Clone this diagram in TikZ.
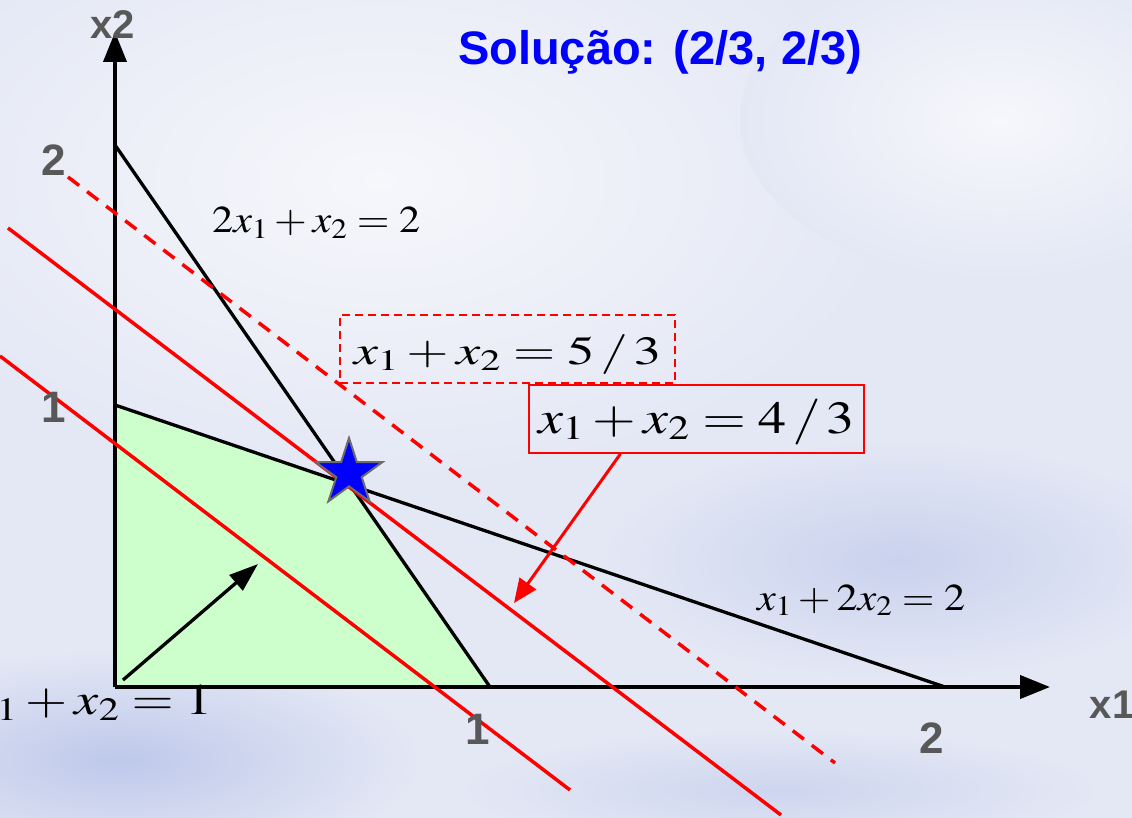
\documentclass[tikz,border=0pt]{standalone}
\usepackage{mathptmx}
\usepackage[no-math]{fontspec}
\setmainfont{Liberation Serif}
\newfontfamily\labfont{Liberation Sans}
\usetikzlibrary{arrows.meta,shapes.geometric,calc}
\definecolor{bgc}{RGB}{228,232,245}
\definecolor{bglight}{RGB}{246,247,251}
\definecolor{bgdark}{RGB}{190,200,234}
\definecolor{greenf}{RGB}{204,255,204}
\definecolor{labgray}{RGB}{88,88,88}
\definecolor{objred}{RGB}{255,0,0}
\newcommand{\myeq}[3]{\resizebox{#1}{\height}{\fontsize{#2}{#2}\selectfont$#3$}}
\tikzset{
  cline/.style={black, line width=3.3pt},
  axisline/.style={black, line width=4pt, -{Triangle[length=30pt,width=23pt]}},
  objline/.style={objred, line width=3.5pt},
  objdash/.style={objred, line width=3.5pt, dash pattern=on 14pt off 10pt},
  eqbox/.style={draw=objred, line width=1.6pt, minimum width=335pt, minimum height=68pt, inner sep=0pt},
  axlab/.style={font=\labfont\bfseries\fontsize{44}{44}\selectfont, text=labgray, inner sep=0pt},
  eqlab/.style={inner sep=0pt, text=black}
}
\begin{document}
\begin{tikzpicture}[x=1pt,y=-1pt]
\useasboundingbox (0,0) rectangle (1132,818);
\clip (0,0) rectangle (1132,818);
% background
\fill[bgc] (0,0) rectangle (1132,818);
\shade[inner color=bglight, outer color=bgc] (380,180) ellipse (520 and 300);
\shade[inner color=bglight, outer color=bgc] (1000,120) ellipse (260 and 160);
\shade[inner color=bgdark, outer color=bgc] (120,760) ellipse (300 and 110);
\shade[inner color=bgdark!70!bgc, outer color=bgc] (900,560) ellipse (300 and 120);
\shade[inner color=bgdark!60!bgc, outer color=bgc] (780,790) ellipse (320 and 60);
% key points
\coordinate (O) at (115,687);
\coordinate (X1) at (1050,687);
\coordinate (X2) at (115,32);
\coordinate (A) at (115,145);
\coordinate (B) at (490,687);
\coordinate (C) at (115,405);
\coordinate (D) at (945,687);
\coordinate (P) at (intersection of A--B and C--D);
% feasible region
\fill[greenf] (O) -- (C) -- (P) -- (B) -- cycle;
% constraints
\draw[cline] (A) -- (B);
\draw[cline] (C) -- (D);
% axes
\draw[axisline] (O) -- (X1);
\draw[axisline] (O) -- (X2);
% gradient arrow
\coordinate (g1) at (123,680);
\coordinate (g2) at (258,564);
\draw[black, line width=3.3pt, -{Triangle[length=29pt,width=20pt]}] (g1) -- (g2);
% objective lines
\coordinate (r1a) at (0,356);
\coordinate (r1b) at (570,790);
\coordinate (r2a) at (8,228);
\coordinate (r2b) at (781,815);
\coordinate (r3a) at (68,177);
\coordinate (r3b) at (835,763);
\draw[objline] (r1a) -- (r1b);
\draw[objline] (r2a) -- (r2b);
\draw[objdash] (r3a) -- (r3b);
% optimum star
\node[star, star points=5, star point ratio=2.618, minimum size=70pt, inner sep=0pt,
      fill=blue, draw=gray!85!black, line width=2pt] (S) at (349,473) {};
% equation boxes
\node[eqbox, dash pattern=on 8pt off 5pt, text height=36pt, text depth=6pt] (E53) at (507.5,349)
  {\myeq{307pt}{40}{x_1 + x_2 = 5\,/\,3}};
\node[eqbox, text height=34pt, text depth=6pt] (E43) at (696.5,419)
  {\myeq{317pt}{46}{x_1 + x_2 = 4\,/\,3}};
\coordinate (ratip) at (514,603);
\draw[objred, line width=3pt, -{Triangle[length=24pt,width=20pt]}] ($(E43.south)+(-76,0)$) -- (ratip);
% constraint labels
\node[eqlab, anchor=base west] (L1) at (212,233) {\myeq{208pt}{38}{2x_1 + x_2 = 2}};
\node[eqlab, anchor=base west] (L2) at (757,610) {\myeq{208pt}{38}{x_1 + 2x_2 = 2}};
\node[eqlab, anchor=base east] (L3) at (213,714) {\myeq{240pt}{44}{x_1 + x_2 = 1}};
% axis labels
\node[axlab, font=\labfont\bfseries\fontsize{40}{40}\selectfont] (lx2) at (113,25) {x2};
\node[axlab, font=\labfont\bfseries\fontsize{40}{40}\selectfont] (lx1) at (1112,705) {x1};
\node[axlab] (l2y) at (54,160) {2};
\node[axlab] (l1y) at (54,407) {1};
\node[axlab] (l1x) at (478,729) {1};
\node[axlab] (l2x) at (932,738) {2};
% title
\node[font=\labfont\bfseries\fontsize{47}{47}\selectfont, text=blue, inner sep=0pt] (T) at (660,52)
  {Solução: (2/3, 2/3)};
\end{tikzpicture}
\end{document}
